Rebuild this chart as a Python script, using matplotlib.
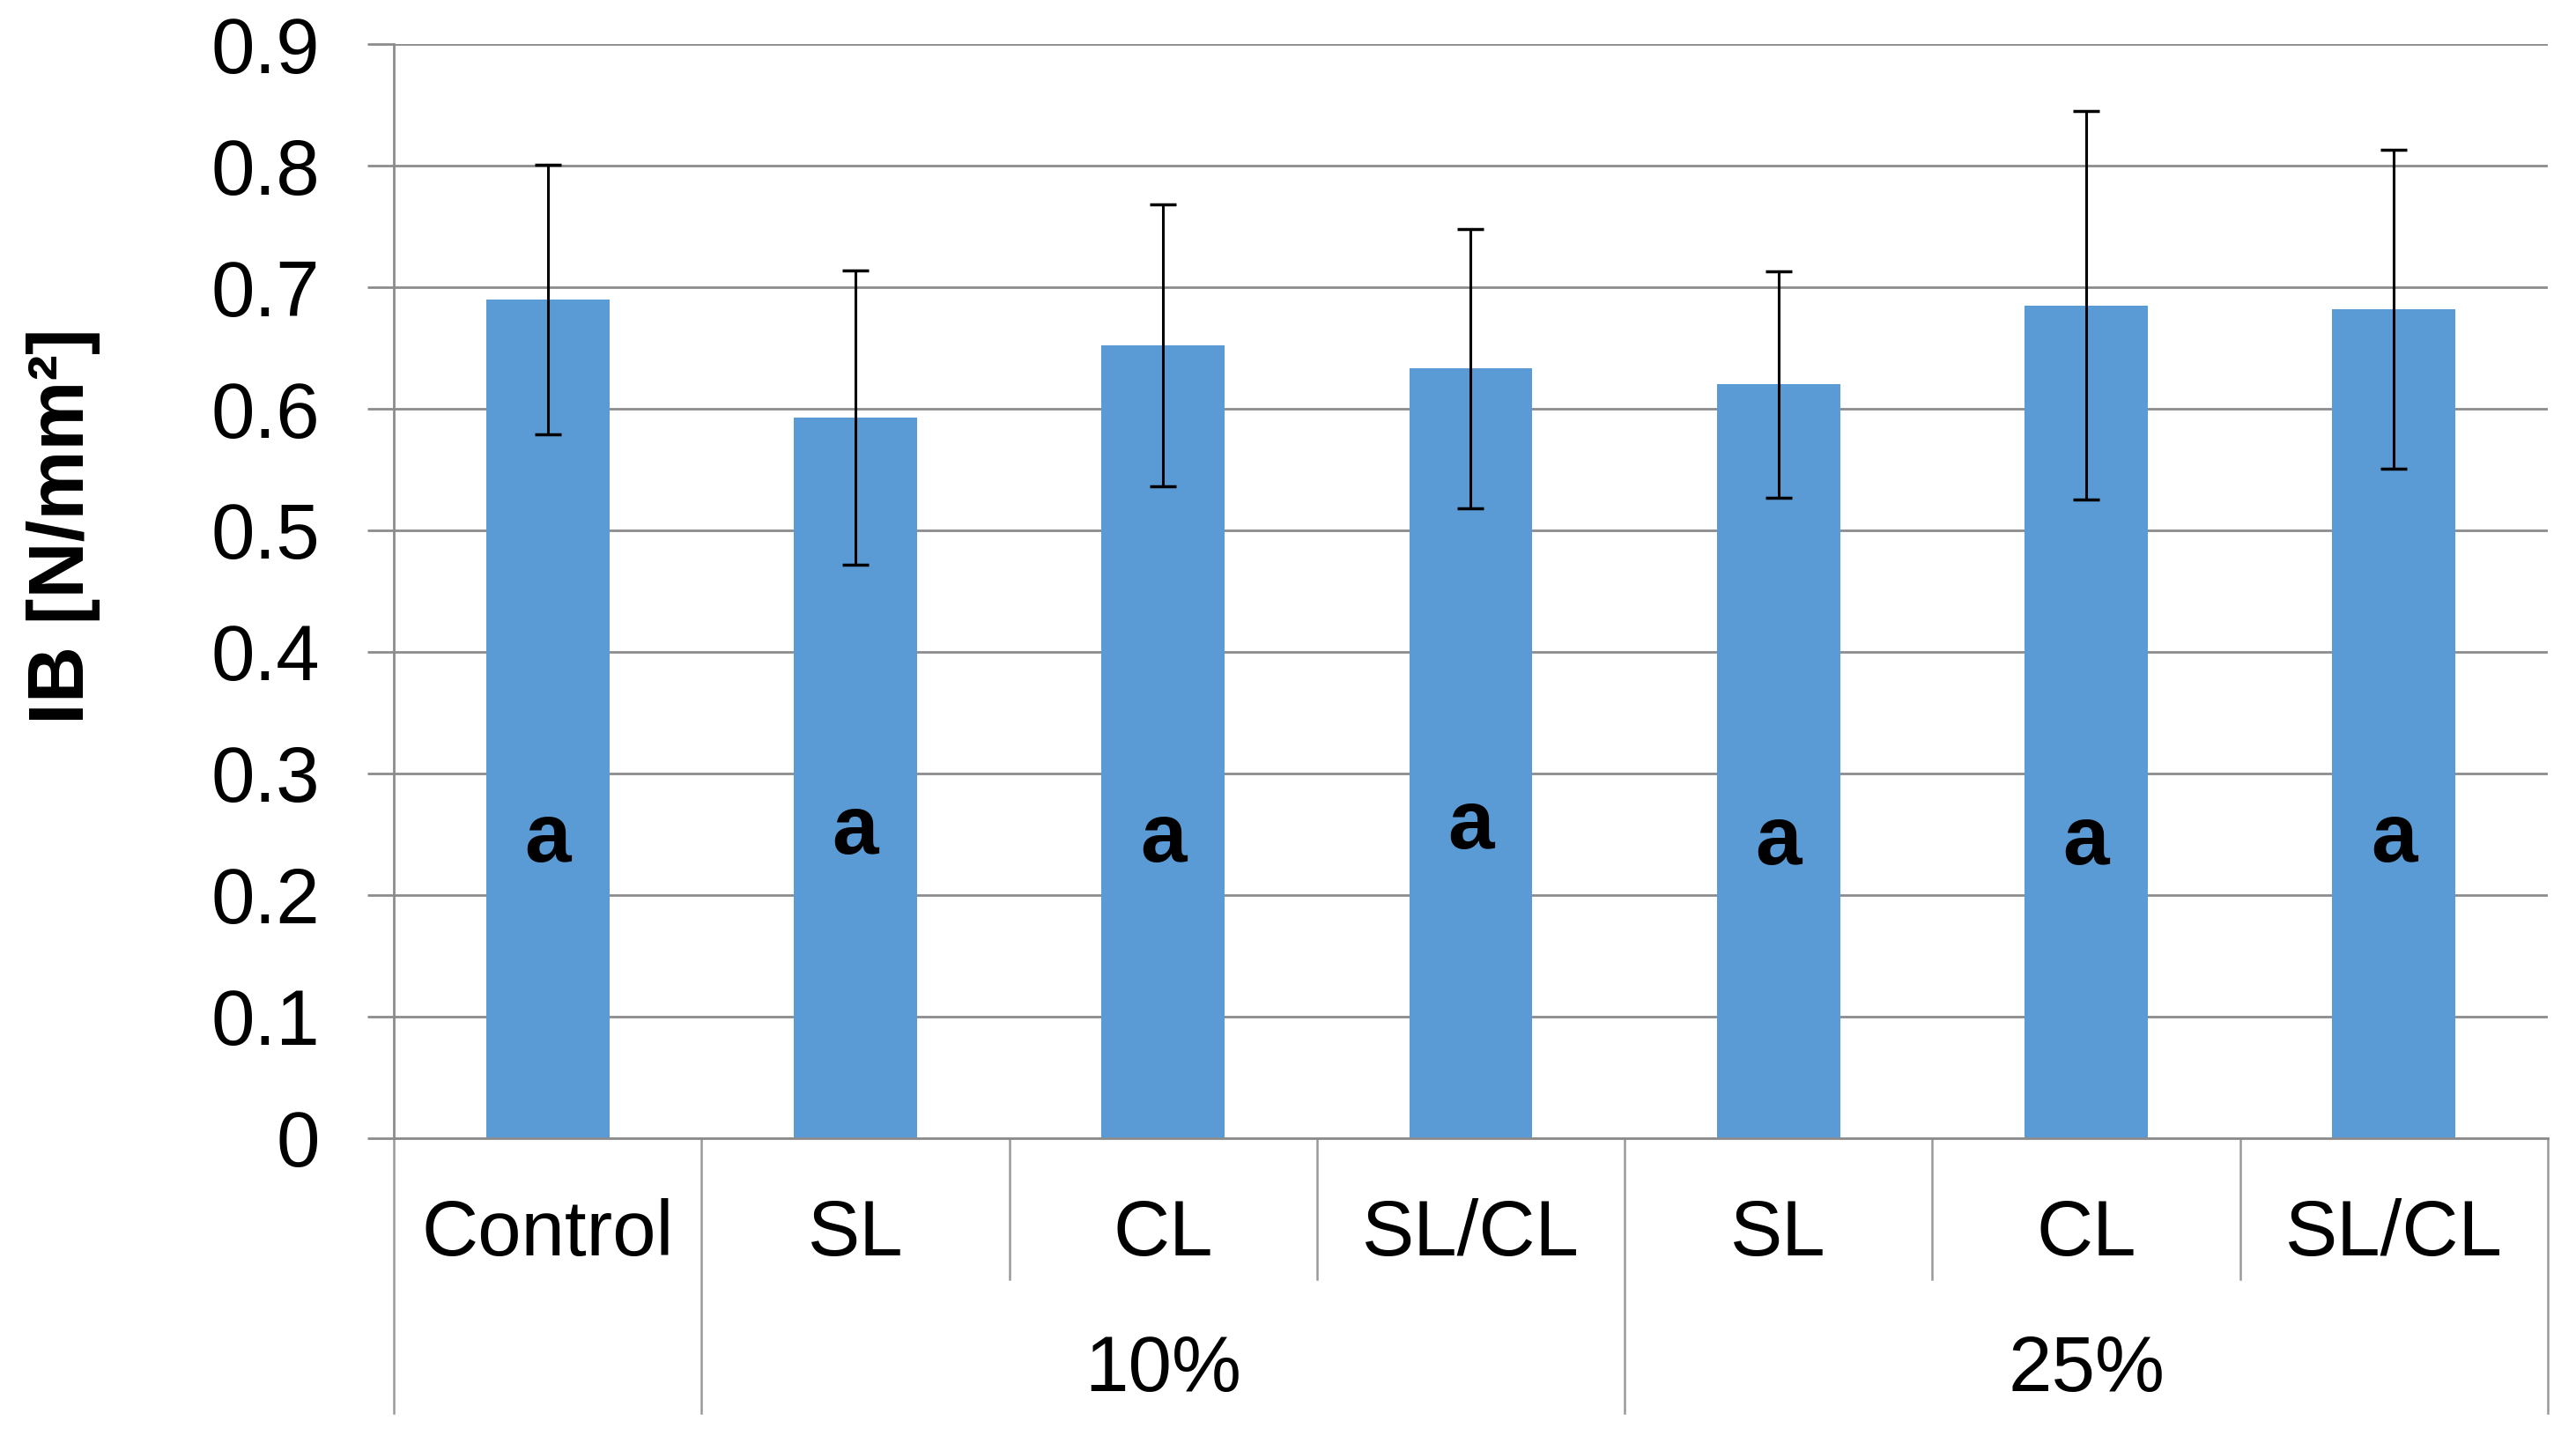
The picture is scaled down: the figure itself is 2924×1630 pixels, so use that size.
import matplotlib
matplotlib.use('Agg')
import matplotlib.pyplot as plt
import numpy as np

plt.rcParams['font.family'] = ['Liberation Sans', 'DejaVu Sans']

# data
categories = ['Control', 'SL', 'CL', 'SL/CL', 'SL', 'CL', 'SL/CL']
means = [0.690, 0.593, 0.652, 0.633, 0.620, 0.685, 0.682]
sd = [0.111, 0.121, 0.116, 0.115, 0.093, 0.160, 0.131]
letters = ['a', 'a', 'a', 'a', 'a', 'a', 'a']
letter_y = [0.245, 0.252, 0.245, 0.256, 0.243, 0.243, 0.245]
group_labels = ['10%', '25%']
group_members = [[1, 2, 3], [4, 5, 6]]

bar_color = '#5B9BD5'
grid_color = '#8c8c8c'
sep_color = '#999999'

fig = plt.figure(figsize=(29.24, 16.30), dpi=100)
ax = fig.add_axes([0.1529, 0.2074, 0.8361, 0.7619])

x = np.arange(len(categories))
ax.bar(x, means, width=0.4, color=bar_color, zorder=2)
ax.errorbar(x, means, yerr=sd, fmt='none', ecolor='black', elinewidth=2.2,
            capsize=11, capthick=2.5, zorder=3)

for xi, (s, yy) in enumerate(zip(letters, letter_y)):
    ax.text(xi, yy, s, ha='center', va='center', fontsize=68,
            fontweight='bold', color='black', zorder=4)

ax.set_xlim(-0.5, len(categories) - 0.5)
ax.set_ylim(0, 0.9)
ax.set_yticks(np.arange(0, 0.91, 0.1))
ax.set_yticklabels(['0'] + [f'{v:.1f}' for v in np.arange(0.1, 0.91, 0.1)])
ax.set_axisbelow(True)
ax.yaxis.grid(True, color=grid_color, linewidth=2)
ax.tick_params(axis='y', length=21.6, width=2, color=grid_color, pad=39,
               labelsize=64)
ax.set_xticks([])

for side in ['top', 'right']:
    ax.spines[side].set_visible(False)
ax.spines['left'].set_color(grid_color)
ax.spines['left'].set_linewidth(2)
ax.spines['bottom'].set_color(grid_color)
ax.spines['bottom'].set_linewidth(2)

# category axis below the plot (two levels)
trans = ax.get_xaxis_transform()
short_end = -0.129
long_end = -0.251
long_seps = [-0.5, 0.5, 3.5, 6.5]
short_seps = [1.5, 2.5, 4.5, 5.5]
for b in long_seps:
    ax.plot([b, b], [0, long_end], transform=trans, color=sep_color,
            linewidth=1.8, clip_on=False)
for b in short_seps:
    ax.plot([b, b], [0, short_end], transform=trans, color=sep_color,
            linewidth=1.8, clip_on=False)

for xi, lab in enumerate(categories):
    ax.text(xi, -0.0885, lab, transform=trans, ha='center', va='center',
            fontsize=64)
for lab, members in zip(group_labels, group_members):
    ax.text(np.mean(members), -0.213, lab, transform=trans, ha='center',
            va='center', fontsize=64)

fig.text(72 / 2924, 1 - 597 / 1630, 'IB [N/mm²]', rotation=90, ha='center',
         va='center', fontsize=64, fontweight='bold')

fig.savefig('out.png', dpi=100, facecolor='white')
